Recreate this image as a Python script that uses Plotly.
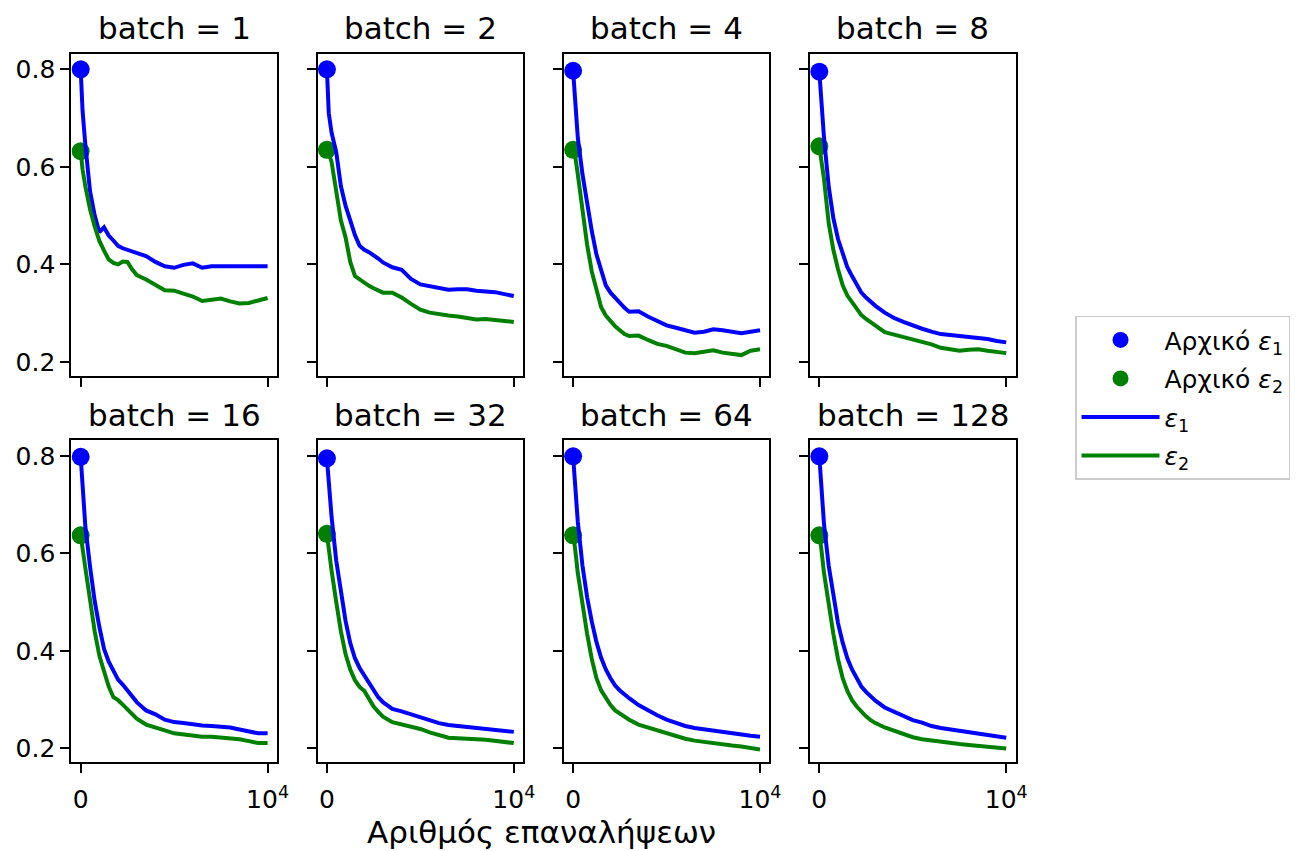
import plotly.graph_objects as go

# ---------------- data ----------------
batches = [1, 2, 4, 8, 16, 32, 64, 128]
iterations = [0, 100, 250, 500, 750, 1000, 1250, 1500, 1750, 2000, 2250, 2500, 2750, 3000,
              3500, 4000, 4500, 5000, 5500, 6000, 6500, 7000, 7500, 8000, 8500, 9000, 9500, 10000]

init_eps1 = [0.800, 0.800, 0.797, 0.795, 0.798, 0.795, 0.799, 0.799]
init_eps2 = [0.632, 0.635, 0.635, 0.642, 0.637, 0.640, 0.637, 0.637]

eps1_b1 = [0.800, 0.715, 0.645, 0.550, 0.500, 0.466, 0.476, 0.459, 0.449, 0.438, 0.433, 0.430, 0.427, 0.422,
           0.417, 0.405, 0.396, 0.393, 0.399, 0.402, 0.393, 0.396, 0.396, 0.395, 0.395, 0.395, 0.397, 0.396]
eps2_b1 = [0.632, 0.595, 0.560, 0.513, 0.478, 0.448, 0.428, 0.410, 0.403, 0.400, 0.406, 0.405, 0.390, 0.378,
           0.369, 0.358, 0.347, 0.346, 0.341, 0.334, 0.325, 0.328, 0.330, 0.324, 0.320, 0.321, 0.326, 0.331]

eps1_b2 = [0.800, 0.710, 0.670, 0.630, 0.560, 0.520, 0.490, 0.460, 0.438, 0.430, 0.425, 0.419, 0.412, 0.404,
           0.394, 0.389, 0.370, 0.359, 0.356, 0.351, 0.348, 0.349, 0.349, 0.346, 0.345, 0.343, 0.339, 0.335]
eps2_b2 = [0.635, 0.628, 0.610, 0.545, 0.490, 0.455, 0.405, 0.376, 0.369, 0.363, 0.356, 0.351, 0.346, 0.342,
           0.342, 0.332, 0.319, 0.307, 0.301, 0.297, 0.295, 0.293, 0.289, 0.287, 0.288, 0.287, 0.284, 0.282]

eps1_b4 = [0.797, 0.730, 0.660, 0.585, 0.520, 0.468, 0.420, 0.386, 0.357, 0.342, 0.331, 0.319, 0.311, 0.303,
           0.304, 0.293, 0.283, 0.275, 0.270, 0.264, 0.260, 0.262, 0.267, 0.265, 0.261, 0.259, 0.262, 0.265]
eps2_b4 = [0.635, 0.625, 0.585, 0.505, 0.440, 0.385, 0.350, 0.312, 0.295, 0.283, 0.273, 0.265, 0.257, 0.253,
           0.254, 0.245, 0.237, 0.233, 0.227, 0.219, 0.218, 0.221, 0.224, 0.219, 0.216, 0.214, 0.223, 0.226]

eps1_b8 = [0.795, 0.730, 0.660, 0.560, 0.495, 0.452, 0.420, 0.394, 0.376, 0.360, 0.342, 0.332, 0.323, 0.315,
           0.301, 0.290, 0.282, 0.274, 0.268, 0.262, 0.257, 0.255, 0.253, 0.253, 0.251, 0.247, 0.243, 0.240]
eps2_b8 = [0.642, 0.620, 0.575, 0.485, 0.430, 0.390, 0.357, 0.336, 0.322, 0.310, 0.296, 0.288, 0.281, 0.273,
           0.261, 0.256, 0.251, 0.246, 0.242, 0.236, 0.229, 0.225, 0.223, 0.225, 0.226, 0.223, 0.220, 0.218]

eps1_b16 = [0.798, 0.740, 0.655, 0.573, 0.502, 0.449, 0.404, 0.378, 0.358, 0.341, 0.331, 0.320, 0.307, 0.295,
            0.278, 0.270, 0.259, 0.254, 0.252, 0.249, 0.247, 0.246, 0.245, 0.243, 0.239, 0.235, 0.231, 0.231]
eps2_b16 = [0.637, 0.615, 0.570, 0.505, 0.440, 0.390, 0.356, 0.327, 0.305, 0.299, 0.290, 0.281, 0.271, 0.261,
            0.249, 0.244, 0.237, 0.231, 0.228, 0.225, 0.224, 0.224, 0.223, 0.222, 0.219, 0.215, 0.211, 0.211]

eps1_b32 = [0.795, 0.745, 0.675, 0.585, 0.520, 0.461, 0.416, 0.385, 0.365, 0.349, 0.334, 0.319, 0.305, 0.295,
            0.281, 0.276, 0.270, 0.263, 0.257, 0.252, 0.248, 0.246, 0.245, 0.243, 0.242, 0.240, 0.237, 0.234]
eps2_b32 = [0.640, 0.615, 0.565, 0.500, 0.440, 0.393, 0.362, 0.340, 0.326, 0.318, 0.302, 0.286, 0.275, 0.265,
            0.254, 0.250, 0.246, 0.240, 0.233, 0.228, 0.222, 0.221, 0.219, 0.219, 0.218, 0.216, 0.214, 0.211]

eps1_b64 = [0.799, 0.740, 0.665, 0.575, 0.510, 0.460, 0.418, 0.386, 0.362, 0.344, 0.329, 0.319, 0.310, 0.303,
            0.289, 0.278, 0.268, 0.259, 0.252, 0.246, 0.242, 0.239, 0.237, 0.234, 0.231, 0.228, 0.226, 0.224]
eps2_b64 = [0.637, 0.612, 0.560, 0.495, 0.435, 0.383, 0.344, 0.319, 0.302, 0.289, 0.278, 0.271, 0.265, 0.259,
            0.249, 0.243, 0.237, 0.230, 0.225, 0.220, 0.216, 0.213, 0.211, 0.209, 0.206, 0.204, 0.201, 0.198]

eps1_b128 = [0.799, 0.735, 0.660, 0.575, 0.510, 0.457, 0.417, 0.385, 0.362, 0.343, 0.327, 0.316, 0.306, 0.298,
             0.284, 0.275, 0.266, 0.258, 0.253, 0.246, 0.242, 0.239, 0.236, 0.233, 0.230, 0.227, 0.225, 0.222]
eps2_b128 = [0.637, 0.612, 0.560, 0.495, 0.435, 0.383, 0.344, 0.318, 0.299, 0.286, 0.275, 0.266, 0.258, 0.252,
             0.243, 0.236, 0.229, 0.223, 0.219, 0.216, 0.214, 0.212, 0.209, 0.207, 0.205, 0.203, 0.201, 0.200]

eps1_all = [eps1_b1, eps1_b2, eps1_b4, eps1_b8, eps1_b16, eps1_b32, eps1_b64, eps1_b128]
eps2_all = [eps2_b1, eps2_b2, eps2_b4, eps2_b8, eps2_b16, eps2_b32, eps2_b64, eps2_b128]

x_tickvals = [0, 10000]
x_ticktext = ["0", "10<sup>4</sup>"]
y_tickvals = [0.2, 0.4, 0.6, 0.8]
y_ticktext = ["0.2", "0.4", "0.6", "0.8"]

# ---------------- layout geometry (pixels) ----------------
W, H = 1304, 851
FONT = "DejaVu Sans"
panel_left0, panel_w, panel_step = 72, 207.5, 248.5
row_tops, panel_h = [54, 441], 322
BLUE, GREEN = "#0000ff", "#008000"

fig = go.Figure()
layout = dict(
    width=W, height=H, autosize=False,
    margin=dict(l=0, r=0, t=0, b=0),
    paper_bgcolor="white", plot_bgcolor="white",
    font=dict(family=FONT, color="black", size=25),
    annotations=[],
    legend=dict(
        x=1085 / W, y=1 - 316 / H, xanchor="left", yanchor="top",
        bgcolor="white", bordercolor="#cccccc", borderwidth=1.5,
        font=dict(family=FONT, size=25, color="black"),
        tracegroupgap=3, itemsizing="trace", itemwidth=78,
    ),
)

for i, b in enumerate(batches):
    r, c = divmod(i, 4)
    left = panel_left0 + c * panel_step
    top = row_tops[r]
    n = "" if i == 0 else str(i + 1)
    xa, ya = "x" + n, "y" + n
    layout["xaxis" + n] = dict(
        domain=[left / W, (left + panel_w) / W], anchor=ya,
        range=[-500, 10500], tickmode="array", tickvals=x_tickvals, ticktext=x_ticktext,
        showticklabels=(r == 1), ticks="outside", ticklen=9, tickwidth=2, tickcolor="black",
        ticklabelstandoff=5,
        showline=True, linecolor="black", linewidth=2, mirror=True,
        showgrid=False, zeroline=False, tickfont=dict(size=25, family=FONT, color="black"),
    )
    layout["yaxis" + n] = dict(
        domain=[1 - (top + panel_h) / H, 1 - top / H], anchor=xa,
        range=[0.172, 0.8315], tickmode="array", tickvals=y_tickvals, ticktext=y_ticktext,
        showticklabels=(c == 0), ticks="outside", ticklen=9, tickwidth=2, tickcolor="black",
        showline=True, linecolor="black", linewidth=2, mirror=True,
        showgrid=False, zeroline=False, tickfont=dict(size=25, family=FONT, color="black"),
    )
    show = (i == 0)
    fig.add_trace(go.Scatter(x=[iterations[0]], y=[init_eps1[i]], mode="markers",
                             marker=dict(color=BLUE, size=18), name="Αρχικό <i>ε</i><sub>1</sub>",
                             legendgroup="a", showlegend=show, xaxis=xa, yaxis=ya))
    fig.add_trace(go.Scatter(x=[iterations[0]], y=[init_eps2[i]], mode="markers",
                             marker=dict(color=GREEN, size=18), name="Αρχικό <i>ε</i><sub>2</sub>",
                             legendgroup="b", showlegend=show, xaxis=xa, yaxis=ya))
    fig.add_trace(go.Scatter(x=iterations, y=eps1_all[i], mode="lines",
                             line=dict(color=BLUE, width=4), name="<i>ε</i><sub>1</sub>",
                             legendgroup="c", showlegend=show, xaxis=xa, yaxis=ya))
    fig.add_trace(go.Scatter(x=iterations, y=eps2_all[i], mode="lines",
                             line=dict(color=GREEN, width=4), name="<i>ε</i><sub>2</sub>",
                             legendgroup="d", showlegend=show, xaxis=xa, yaxis=ya))
    layout["annotations"].append(dict(
        text=f"batch = {b}", xref="paper", yref="paper",
        x=(left + panel_w / 2) / W, y=1 - (top - 26) / H,
        xanchor="center", yanchor="middle", showarrow=False,
        font=dict(family=FONT, size=31, color="black"),
    ))

layout["annotations"].append(dict(
    text="Αριθμός επαναλήψεων", xref="paper", yref="paper",
    x=547 / W, y=1 - 833 / H, xanchor="center", yanchor="middle", showarrow=False,
    font=dict(family=FONT, size=31, color="black"),
))

fig.update_layout(**layout)
fig.write_html("out.html")
